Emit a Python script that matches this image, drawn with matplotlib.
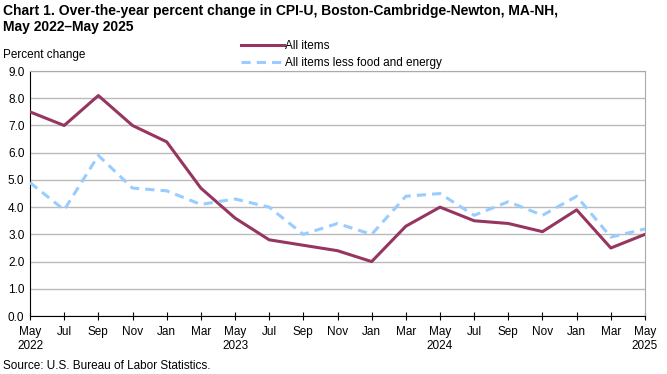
import matplotlib.pyplot as plt

plt.rcParams['font.family'] = ['Liberation Sans', 'DejaVu Sans']

months = ['May', 'Jul', 'Sep', 'Nov', 'Jan', 'Mar', 'May', 'Jul', 'Sep', 'Nov',
          'Jan', 'Mar', 'May', 'Jul', 'Sep', 'Nov', 'Jan', 'Mar', 'May']
years = {0: '2022', 6: '2023', 12: '2024', 18: '2025'}
all_items = [7.5, 7.0, 8.1, 7.0, 6.4, 4.7, 3.6, 2.8, 2.6, 2.4,
             2.0, 3.3, 4.0, 3.5, 3.4, 3.1, 3.9, 2.5, 3.0]
core = [4.9, 3.9, 5.9, 4.7, 4.6, 4.1, 4.3, 4.0, 3.0, 3.4,
        3.0, 4.4, 4.5, 3.7, 4.2, 3.7, 4.4, 2.9, 3.2]

x = list(range(len(months)))
labels = [m + ('\n' + years[i] if i in years else '') for i, m in enumerate(months)]

fig = plt.figure(figsize=(6.67, 3.74), dpi=100)
ax = fig.add_axes([0.045, 0.155, 0.922, 0.655])

ax.plot(x, all_items, color='#963560', lw=2.2, label='All items', zorder=3)
ax.plot(x, core, color='#99CCFF', lw=2.2, ls=(0, (3, 2)), label='All items less food and energy', zorder=3)

ax.set_xlim(0, 18)
ax.set_ylim(0, 9)
ax.set_yticks([i for i in range(10)])
ax.set_yticklabels([f'{i:.1f}' for i in range(10)])
ax.set_xticks(x)
ax.set_xticklabels(labels)
ax.tick_params(axis='x', direction='inout', length=6, width=0.8, labelsize=8.5, pad=4)
ax.tick_params(axis='y', length=0, labelsize=8.5, pad=4)
ax.grid(axis='y', color='#BBBBBB', lw=1)
for s in ['top', 'right']:
    ax.spines[s].set_color('#AAAAAA')
ax.spines['left'].set_color('black')
ax.spines['bottom'].set_color('black')

fig.text(0.005, 0.99, 'Chart 1. Over-the-year percent change in CPI-U, Boston-Cambridge-Newton, MA-NH,\nMay 2022\u2013May 2025',
         fontsize=10, fontweight='bold', va='top', ha='left', linespacing=1.2)
fig.text(0.005, 0.853, 'Percent change', fontsize=8.5, va='center')
fig.text(0.005, 0.005, 'Source: U.S. Bureau of Labor Statistics.', fontsize=8.5, va='bottom')

fig.legend(loc='upper left', bbox_to_anchor=(0.362, 0.893), frameon=False, fontsize=8.5,
           handlelength=3.6, handletextpad=0.1, labelspacing=0.45, borderaxespad=0, borderpad=0)

fig.savefig('out.png', dpi=100)
